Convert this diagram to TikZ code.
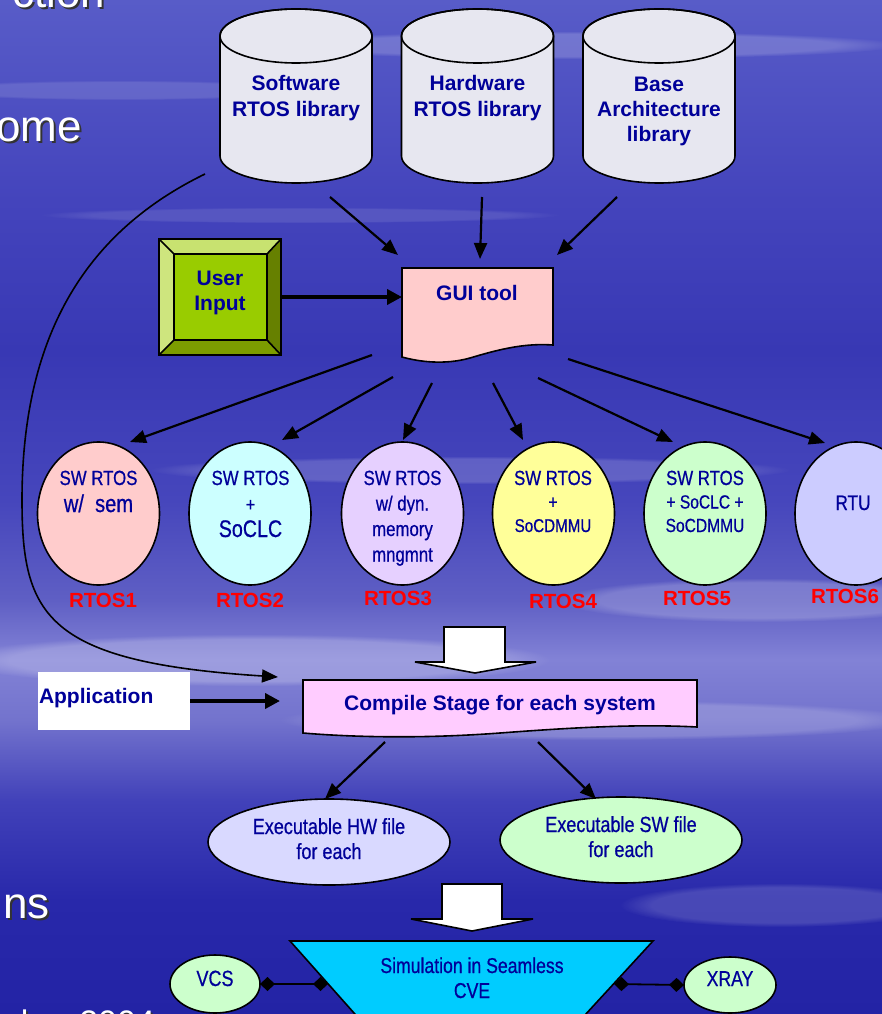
\documentclass[tikz,border=0pt]{standalone}
\usepackage{fontspec}
\setmainfont{Liberation Sans}
\newfontfamily\narrowsf[FakeStretch=0.82,FakeBold=0.6]{Liberation Sans}
\usetikzlibrary{arrows.meta,shapes.geometric,fadings}

\definecolor{ink}{RGB}{0,0,153}
\definecolor{cylfill}{RGB}{231,231,240}
\definecolor{guifill}{RGB}{255,204,204}
\definecolor{compfill}{RGB}{255,204,255}
\definecolor{rtosA}{RGB}{255,204,204}
\definecolor{rtosB}{RGB}{204,255,255}
\definecolor{rtosC}{RGB}{230,208,255}
\definecolor{rtosD}{RGB}{255,255,153}
\definecolor{rtosE}{RGB}{204,255,204}
\definecolor{rtosF}{RGB}{204,204,255}
\definecolor{hwfill}{RGB}{217,217,255}
\definecolor{simfill}{RGB}{0,204,255}
\definecolor{lblred}{RGB}{255,0,0}
\definecolor{keyface}{RGB}{153,204,0}
\definecolor{keylight}{RGB}{200,226,112}
\definecolor{keydark}{RGB}{102,128,0}
\definecolor{keymid}{RGB}{124,156,0}

% sky gradient, bottom (25bp) to top (75bp)
\definecolor{skyA}{RGB}{35,35,165}
\definecolor{skyB}{RGB}{40,40,170}
\definecolor{skyC}{RGB}{65,65,185}
\definecolor{skyD}{RGB}{115,115,205}
\definecolor{skyE}{RGB}{130,130,214}
\definecolor{skyF}{RGB}{95,95,196}
\definecolor{skyG}{RGB}{70,70,188}
\definecolor{skyH}{RGB}{56,56,180}
\definecolor{skyI}{RGB}{68,68,188}
\definecolor{skyJ}{RGB}{88,92,200}
\pgfdeclareverticalshading{skybg}{100bp}{%
  color(0bp)=(skyA); color(25bp)=(skyA); color(30.6bp)=(skyB);
  color(35.5bp)=(skyC); color(39.5bp)=(skyD); color(42.5bp)=(skyE);
  color(45.4bp)=(skyF); color(50.3bp)=(skyG); color(57.7bp)=(skyH);
  color(65.1bp)=(skyI); color(75bp)=(skyJ); color(100bp)=(skyJ)}

\begin{document}
\begin{tikzpicture}[x=1pt,y=-1pt,
  every node/.style={inner sep=0pt, outer sep=0pt},
  outline/.style={draw=black, line width=1.6pt},
  boldtxt/.style={font=\fontsize{21}{26}\selectfont\bfseries, text=ink, align=center},
  narrowtxt/.style={font=\narrowsf\fontsize{20.5}{26}\selectfont, text=ink, align=center},
  tag/.style={font=\fontsize{20.5}{24}\selectfont\bfseries, text=lblred},
  rtos/.style={ellipse, outline, minimum width=122pt, minimum height=143pt},
  arr/.style={draw=black, line width=2.2pt, -{Triangle[length=16pt,width=13pt]}},
  fatarr/.style={draw=black, line width=4.5pt, -{Triangle[length=15pt,width=15pt]}},
  link/.style={draw=black, line width=1.8pt, {Diamond[length=15pt,width=14pt]}-{Diamond[length=15pt,width=14pt]}},
  slide/.style={text=white},
  slideshadow/.style={text=black!80},
  cloud/.style={white, path fading=circle with fuzzy edge 20 percent},
]
\useasboundingbox (0,0) rectangle (882,1014);
\clip (0,0) rectangle (882,1014);

% sky
\shade[shading=skybg] (0,0) rectangle (882,1014);
\fill[cloud, opacity=0.18] (580,45) ellipse [x radius=320pt, y radius=14pt];
\fill[cloud, opacity=0.12] (120,90) ellipse [x radius=200pt, y radius=10pt];
\fill[cloud, opacity=0.1] (300,215) ellipse [x radius=260pt, y radius=8pt];
\fill[cloud, opacity=0.16] (470,470) ellipse [x radius=320pt, y radius=14pt];
\fill[cloud, opacity=0.2] (760,600) ellipse [x radius=200pt, y radius=22pt];
\fill[cloud, opacity=0.22] (250,660) ellipse [x radius=300pt, y radius=26pt];
\fill[cloud, opacity=0.18] (600,720) ellipse [x radius=320pt, y radius=20pt];
\fill[cloud, opacity=0.15] (780,905) ellipse [x radius=160pt, y radius=22pt];

% slide text running off the left edge
\begin{scope}[font=\fontsize{44}{50}\selectfont]
\node[slideshadow, anchor=base east] (t1s) at (107,10) {ction};
\node[slide, anchor=base east] (t1) at (105,8) {ction};
\node[slideshadow, anchor=base east] (t2s) at (84,143) {ome};
\node[slide, anchor=base east] (t2) at (82,141) {ome};
\node[slideshadow, anchor=base east] (t3s) at (52,920) {ns};
\node[slide, anchor=base east] (t3) at (50,918) {ns};
\end{scope}
\node[slideshadow, anchor=base east, font=\fontsize{34}{40}\selectfont] (t4s) at (157,1036) {ber 2004};
\node[slide, anchor=base east, font=\fontsize{34}{40}\selectfont] (t4) at (155,1034) {ber 2004};

% libraries
\foreach \cx/\nm in {296/swlib, 477.5/hwlib, 659/archlib} {
  \filldraw[outline, fill=cylfill] ({\cx-76},36) -- ({\cx-76},156)
    arc[start angle=180, end angle=360, x radius=76pt, y radius=27pt]
    -- ({\cx+76},36)
    arc[start angle=0, end angle=180, x radius=76pt, y radius=27pt] -- cycle;
  \draw[outline] (\cx,36) ellipse [x radius=76pt, y radius=27pt];
  \node[minimum width=152pt, minimum height=175pt] (\nm) at (\cx,95.5) {};
}
% multi-line nodes are placed by the baseline of their last line
\node[boldtxt, anchor=base] (swtxt) at (296,117) {Software\\RTOS library};
\node[boldtxt, anchor=base] (hwtxt) at (477.5,117) {Hardware\\RTOS library};
\node[boldtxt, anchor=base, font=\fontsize{21}{25.5}\selectfont\bfseries] (archtxt) at (659,142) {Base\\Architecture\\library};

% GUI tool (document shape)
\filldraw[outline, fill=guifill] (402,268) -- (553,268) -- (553,345)
  .. controls (525,343) and (500,349) .. (470,358)
  .. controls (445,365) and (420,362) .. (402,357) -- cycle;
\node[minimum width=151pt, minimum height=89pt] (gui) at (477.5,312.5) {};
\node[boldtxt, anchor=base] (guitxt) at (477,300) {GUI tool};

% user input key
\fill[keylight] (159,239) -- (281,239) -- (267,254) -- (174,254) -- cycle;
\fill[keylight!90!white] (159,239) -- (174,254) -- (174,340) -- (159,355) -- cycle;
\fill[keydark] (281,239) -- (281,355) -- (267,340) -- (267,254) -- cycle;
\fill[keymid] (159,355) -- (281,355) -- (267,340) -- (174,340) -- cycle;
\fill[keyface] (174,254) rectangle (267,340);
\draw[outline] (159,239) rectangle (281,355);
\draw[outline] (174,254) rectangle (267,340);
\draw[outline] (159,239) -- (174,254) (281,239) -- (267,254)
  (159,355) -- (174,340) (281,355) -- (267,340);
\node[minimum width=122pt, minimum height=116pt] (userin) at (220,297) {};
\node[boldtxt, anchor=base, font=\fontsize{21}{25}\selectfont\bfseries] (userintxt) at (220,310) {User\\Input};

% inputs of the GUI tool
\draw[arr] ([shift={(34,14)}]swlib.south) -- ([shift={(-4,-13)}]gui.north west);
\draw[arr] ([shift={(4.5,14)}]hwlib.south) -- ([shift={(2.5,-9)}]gui.north);
\draw[arr] ([shift={(-42,14)}]archlib.south) -- ([shift={(4,-13)}]gui.north east);
\draw[fatarr] (userin.east) -- (userin.east -| gui.west);

% generated systems
\node[rtos, fill=rtosA] (r1) at (98.5,513.5) {};
\node[rtos, fill=rtosB] (r2) at (250,513.5) {};
\node[rtos, fill=rtosC] (r3) at (402.5,513.5) {};
\node[rtos, fill=rtosD] (r4) at (553.5,513.5) {};
\node[rtos, fill=rtosE] (r5) at (705,513.5) {};
\node[rtos, fill=rtosF] (r6) at (856,513.5) {};

\node[narrowtxt, anchor=base, font=\narrowsf\fontsize{20.5}{27}\selectfont] (r1txt) at (98.5,512)
  {SW RTOS\\{\fontsize{24.5}{27}\selectfont w/\ \ sem}};
\node[narrowtxt, anchor=base, font=\narrowsf\fontsize{20.5}{26}\selectfont] (r2txt) at (250.5,537)
  {SW RTOS\\{\fontsize{19}{26}\selectfont +}\\{\fontsize{24}{26}\selectfont SoCLC}};
\node[narrowtxt, anchor=base, font=\narrowsf\fontsize{20.5}{25.5}\selectfont] (r3txt) at (402.5,561.5)
  {SW RTOS\\w/ dyn.\\memory\\mngmnt};
\node[narrowtxt, anchor=base, font=\narrowsf\fontsize{20.5}{23.5}\selectfont] (r4txt) at (553,532)
  {SW RTOS\\{\fontsize{19}{23.5}\selectfont +}\\{\fontsize{18.5}{23.5}\selectfont SoCDMMU}};
\node[narrowtxt, anchor=base, font=\narrowsf\fontsize{20.5}{23.5}\selectfont] (r5txt) at (705,532)
  {SW RTOS\\{\fontsize{19}{23.5}\selectfont + SoCLC +}\\{\fontsize{19}{23.5}\selectfont SoCDMMU}};
\node[narrowtxt, anchor=base, font=\narrowsf\fontsize{21}{26}\selectfont] (r6txt) at (853,510) {RTU};

\node[tag, anchor=base] (lab1) at (103,607) {RTOS1};
\node[tag, anchor=base] (lab2) at (250,607) {RTOS2};
\node[tag, anchor=base] (lab3) at (398,605) {RTOS3};
\node[tag, anchor=base] (lab4) at (563,608) {RTOS4};
\node[tag, anchor=base] (lab5) at (697,605) {RTOS5};
\node[tag, anchor=base] (lab6) at (845,603) {RTOS6};

\draw[arr] ([shift={(-30,-2)}]gui.south west) -- ([shift={(31.5,0)}]r1.north);
\draw[arr] ([shift={(-9,20)}]gui.south west) -- ([shift={(32,-2)}]r2.north);
\draw[arr] ([shift={(30,26)}]gui.south west) -- ([shift={(0.5,-2)}]r3.north);
\draw[arr] ([shift={(91,26)}]gui.south west) -- ([shift={(-30.5,-2)}]r4.north);
\draw[arr] ([shift={(136,21)}]gui.south west) -- ([shift={(-32,0)}]r5.north);
\draw[arr] ([shift={(166,2)}]gui.south west) -- ([shift={(-31,1)}]r6.north);

% compile stage
\filldraw[outline, fill=white] (444,627) -- (505,627) -- (505,662) -- (536,662)
  -- (475,673) -- (415,662) -- (444,662) -- cycle;
\filldraw[outline, fill=compfill] (303,680) -- (697,680) -- (697,727)
  .. controls (640,724) and (580,727) .. (500,733)
  .. controls (420,739) and (350,737) .. (303,733) -- cycle;
\node[minimum width=394pt, minimum height=53pt] (comp) at (500,706.5) {};
\node[boldtxt, anchor=base] (comptxt) at (500,710) {Compile Stage for each system};

\node[fill=white, minimum width=152pt, minimum height=58pt] (app) at (114,701) {};
\node[boldtxt, anchor=base west] (apptxt) at (39,703) {Application};
\draw[fatarr, shorten >=23pt] (app.east) -- (app.east -| comp.west);

\draw[arr, line width=1.6pt] ([shift={(-15,-9)}]swlib.south west)
  .. controls (90,230) and (22,330) .. (22,500)
  .. controls (22,615) and (45,662) .. ([shift={(-25,-3)}]comp.north west);

% executables
\node[ellipse, outline, fill=hwfill, minimum width=242pt, minimum height=86pt] (hw) at (329,842) {};
\node[ellipse, outline, fill=rtosE, minimum width=242pt, minimum height=86pt] (sw) at (621,840) {};
\node[narrowtxt, anchor=base, font=\narrowsf\fontsize{22}{25}\selectfont] (hwexe) at (329,859) {Executable HW file\\for each};
\node[narrowtxt, anchor=base, font=\narrowsf\fontsize{22}{25}\selectfont] (swexe) at (621,857) {Executable SW file\\for each};
\draw[arr] ([shift={(82,9)}]comp.south west) -- ([shift={(-4,0)}]hw.north);
\draw[arr] ([shift={(235,9)}]comp.south west) -- ([shift={(-25,2)}]sw.north);

% simulation
\filldraw[outline, fill=white] (442,884) -- (502,884) -- (502,919) -- (533,919)
  -- (472,931) -- (411,919) -- (442,919) -- cycle;
\filldraw[outline, fill=simfill] (290,941) -- (653,941) -- (562,1040) -- (378,1040) -- cycle;
\coordinate (simL) at (328,984);
\coordinate (simR) at (614,984);
\node[narrowtxt, anchor=base, font=\narrowsf\fontsize{21.5}{25}\selectfont] (simtxt) at (472,998) {Simulation in Seamless\\CVE};

\node[ellipse, outline, fill=rtosE, minimum width=90pt, minimum height=58pt] (vcs) at (215,984) {};
\node[ellipse, outline, fill=rtosE, minimum width=92pt, minimum height=56pt] (xray) at (730,985) {};
\node[narrowtxt, anchor=base, font=\narrowsf\fontsize{22}{25}\selectfont] (vcstxt) at (215,986) {VCS};
\node[narrowtxt, anchor=base, font=\narrowsf\fontsize{21.5}{25}\selectfont] (xraytxt) at (730,986) {XRAY};
\draw[link] (vcs.east) -- (simL);
\draw[link] (simR) -- (xray.west);
\end{tikzpicture}
\end{document}
